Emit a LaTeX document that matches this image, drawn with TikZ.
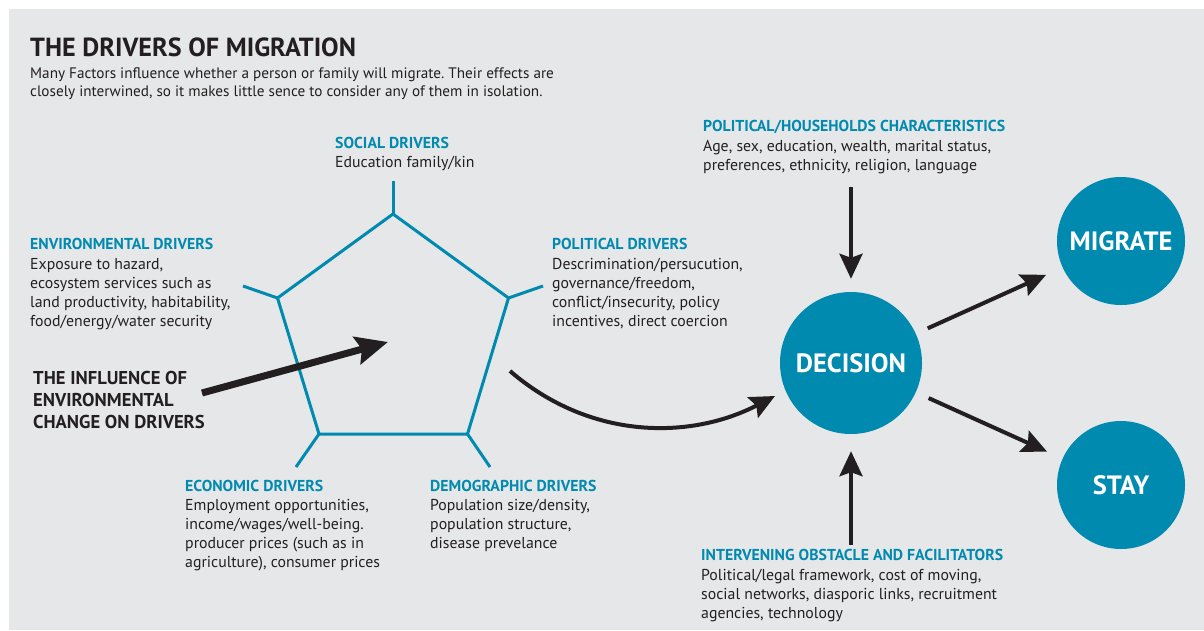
\documentclass[tikz,border=0pt]{standalone}
\usepackage{fontspec}
\setmainfont{PT Sans}
\usetikzlibrary{arrows.meta}
\definecolor{tealc}{HTML}{008AB0}
\definecolor{darkc}{HTML}{231F20}
\definecolor{bgc}{HTML}{E6E7E8}
\newcommand\hd[1]{{\color{tealc}\bfseries #1}}
\frenchspacing
\begin{document}
\begin{tikzpicture}[x=1pt,y=-1pt,
  txt/.style={anchor=base west, inner sep=0pt, align=left, text=darkc, font=\fontsize{15.8}{19}\selectfont},
  circ/.style={circle, fill=tealc, text=white, inner sep=0pt, font=\fontsize{26.5}{30}\selectfont\bfseries},
  arr/.style={draw=darkc, line width=4pt, -{Stealth[length=25pt,width=23pt,inset=4pt]}},
  pent/.style={draw=tealc, line width=3pt, line join=miter}
]
\useasboundingbox (0,0) rectangle (1204,630);
\fill[white] (0,0) rectangle (1204,630);
\fill[bgc] (9,9) rectangle (1204,630);

% title (anchor = baseline of last line)
\node[anchor=base west, inner sep=0pt, text=darkc, font=\fontsize{26.2}{30}\selectfont\bfseries] (title) at (30,56) {THE DRIVERS OF MIGRATION};
\node[txt, font=\fontsize{15.2}{18}\selectfont] (intro) at (30,96) {Many Factors influence whether a person or family will migrate. Their effects are\\closely interwined, so it makes little sence to consider any of them in isolation.};

% pentagon
\coordinate (p1) at (393,214);
\coordinate (p2) at (508.5,298);
\coordinate (p3) at (467.5,434);
\coordinate (p4) at (319,434);
\coordinate (p5) at (277.5,298);
\coordinate (t1) at (393,181);
\coordinate (t2) at (543,286);
\coordinate (t3) at (490,467);
\coordinate (t4) at (296,467);
\coordinate (t5) at (243,286);
\draw[pent] (p1) -- (p2) -- (p3) -- (p4) -- (p5) -- cycle;
\draw[pent] (p1) -- (t1);
\draw[pent] (p2) -- (t2);
\draw[pent] (p3) -- (t3);
\draw[pent] (p4) -- (t4);
\draw[pent] (p5) -- (t5);

% driver texts
\node[txt] (social) at (335,167) {\hd{SOCIAL DRIVERS}\\Education family/kin};
\node[txt] (env) at (30,326) {\hd{ENVIRONMENTAL DRIVERS}\\[1pt]Exposure to hazard,\\ecosystem services such as\\land productivity, habitability,\\food/energy/water security};
\node[txt] (pol) at (552,326) {\hd{POLITICAL DRIVERS}\\[1pt]Descrimination/persucution,\\governance/freedom,\\conflict/insecurity, policy\\incentives, direct coercion};
\node[txt] (eco) at (185,567) {\hd{ECONOMIC DRIVERS}\\Employment opportunities,\\income/wages/well-being.\\producer prices (such as in\\agriculture), consumer prices};
\node[txt] (demo) at (430,548) {\hd{DEMOGRAPHIC DRIVERS}\\Population size/density,\\population structure,\\disease prevelance};
\node[txt] (hh) at (703,170) {\hd{POLITICAL/HOUSEHOLDS CHARACTERISTICS}\\[1pt]Age, sex, education, wealth, marital status,\\preferences, ethnicity, religion, language};
\node[txt] (obst) at (701,618) {\hd{INTERVENING OBSTACLE AND FACILITATORS}\\[1pt]Political/legal framework, cost of moving,\\social networks, diasporic links, recruitment\\agencies, technology};

% influence
\node[anchor=base west, inner sep=0pt, align=left, text=darkc, font=\fontsize{18.6}{22}\selectfont\bfseries] (infl) at (33,428.5) {THE INFLUENCE OF\\ENVIRONMENTAL\\CHANGE ON DRIVERS};
\coordinate (ia) at (202,393);
\coordinate (ib) at (388,342);
\draw[draw=darkc, line width=7pt, -{Stealth[length=32pt,width=28pt,inset=5pt]}] (ia) -- (ib);

% circles
\node[circ, minimum size=142pt] (dec) at (851,363) {DECISION};
\node[circ, minimum size=128pt] (mig) at (1121,241) {MIGRATE};
\node[circ, minimum size=128pt] (stay) at (1121,485) {STAY};

% arrows
\coordinate (cs) at (510,371);
\coordinate (ce) at (775,396);
\draw[arr] (cs) .. controls (590,440) and (690,440) .. (ce);
\coordinate (tt) at (851,187);
\coordinate (bb) at (851,545);
\draw[arr, shorten >=13pt] (tt) -- (dec);
\draw[arr, shorten >=17pt] (bb) -- (dec);
\draw[arr, shorten <=13pt, shorten >=18pt] (dec) -- (mig);
\draw[arr, shorten <=14pt, shorten >=17pt] (dec) -- (stay);
\end{tikzpicture}
\end{document}
